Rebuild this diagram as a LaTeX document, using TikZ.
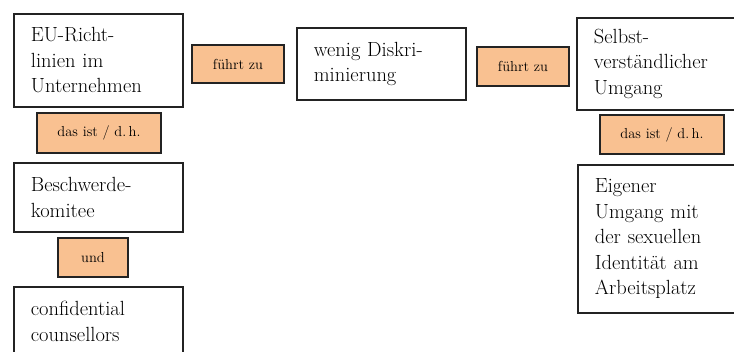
\documentclass[tikz,border=0pt]{standalone}
\usepackage{tikz}
\definecolor{peach}{RGB}{249,193,145}
\definecolor{boxline}{RGB}{35,35,35}

\begin{document}
\begin{tikzpicture}[x=1pt, y=-1pt,
    textbox/.style={draw=boxline, line width=1.8pt, fill=white, anchor=north west,
      minimum width=169pt, text width=135pt, inner xsep=17pt, align=left,
      font=\fontsize{20.5}{25.5}\selectfont},
    linkbox/.style={draw=boxline, line width=2.2pt, fill=peach, inner sep=0pt,
      align=center, font=\fontsize{14.5}{17}\selectfont}]
          \clip (0,0) rectangle (734,351);

          % left column
          \node[textbox, minimum height=93pt] (eurl) at (13,13) {EU-Richt-\\linien im\\Unternehmen};
          \node[linkbox, minimum width=124pt, minimum height=40pt] (dasist1) at (99,133) {das ist / d.\,h.};
          \node[textbox, minimum height=69pt] (beschw) at (13,162) {Beschwerde-\\komitee};
          \node[linkbox, minimum width=70pt, minimum height=39pt] (und) at (93,257.5) {und};
          \node[textbox, minimum height=69pt] (counsel) at (13,286) {confidential\\counsellors};

          % middle
          \node[linkbox, minimum width=92pt, minimum height=38pt] (fuehrt1) at (238,64) {führt zu};
          \node[textbox, minimum height=72pt] (diskr) at (296,27) {wenig Diskri-\\minierung};
          \node[linkbox, minimum width=92pt, minimum height=39pt] (fuehrt2) at (523,66.5) {führt zu};

          % right column
          \node[textbox, minimum height=92pt] (selbst) at (576,17) {Selbst-\\verständlicher\\Umgang};
          \node[linkbox, minimum width=124pt, minimum height=39pt] (dasist2) at (662,134.5) {das ist / d.\,h.};
          \node[textbox, minimum height=148pt] (eigen) at (577,164) {Eigener\\Umgang mit\\der sexuellen\\Identität am\\Arbeitsplatz};
        \end{tikzpicture}
\end{document}
